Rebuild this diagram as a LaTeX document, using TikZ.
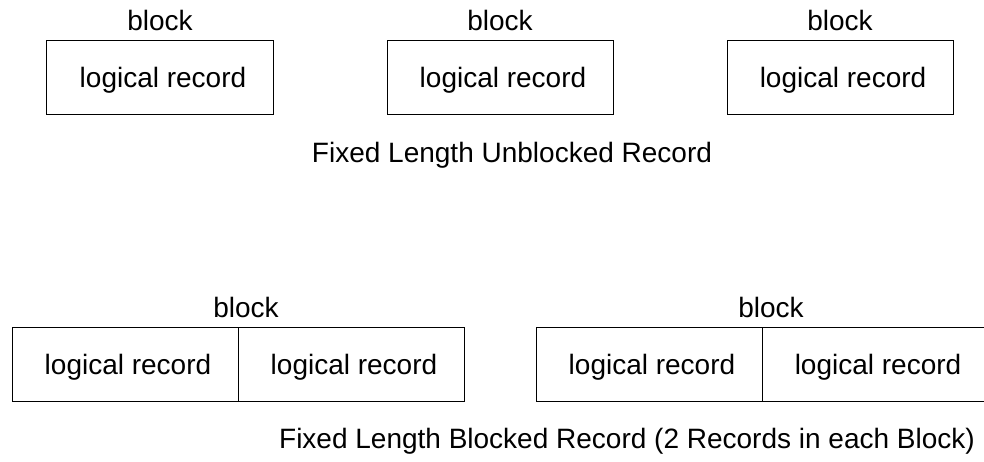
\documentclass[tikz,border=0pt]{standalone}
\usepackage{fontspec}
\setmainfont{Liberation Sans}
\begin{document}
\begin{tikzpicture}[x=0.75pt,y=-0.75pt,
  boxline/.style={draw=black,line width=0.7pt},
  lbl/.style={anchor=base,inner sep=0pt,font=\fontsize{21}{25}\selectfont}]
\useasboundingbox[fill=white] (0,0) rectangle (984,461);
% top row
\draw[boxline] (46,40) rectangle (273,114);
\draw[boxline] (387,40) rectangle (613,114);
\draw[boxline] (727,40) rectangle (953,114);
\node[lbl] (b1) at (160,30) {block};
\node[lbl] (b2) at (500,30) {block};
\node[lbl] (b3) at (840,30) {block};
\node[lbl] (r1) at (163,87) {logical record};
\node[lbl] (r2) at (503,87) {logical record};
\node[lbl] (r3) at (843,87) {logical record};
\node[lbl] (cap1) at (512,162) {Fixed Length Unblocked Record};
% bottom row
\draw[boxline] (12,327) rectangle (464,401);
\draw[boxline] (238,327) -- (238,401);
\draw[boxline] (536,327) rectangle (988,401);
\draw[boxline] (762,327) -- (762,401);
\node[lbl] (b4) at (246,317) {block};
\node[lbl] (b5) at (771,317) {block};
\node[lbl] (r4) at (128,374) {logical record};
\node[lbl] (r5) at (354,374) {logical record};
\node[lbl] (r6) at (652,374) {logical record};
\node[lbl] (r7) at (878,374) {logical record};
\node[lbl] (cap2) at (627,448) {Fixed Length Blocked Record (2 Records in each Block)};
\end{tikzpicture}
\end{document}
